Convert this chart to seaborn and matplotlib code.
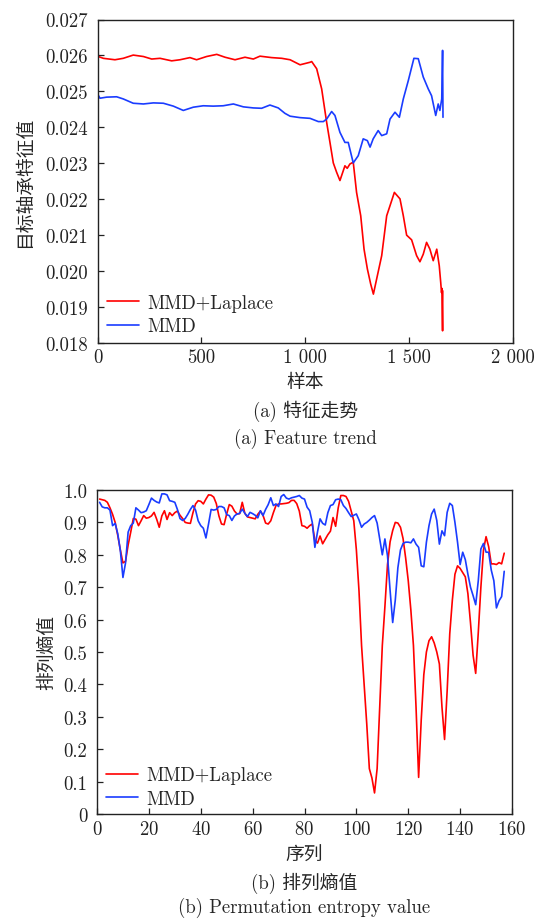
import numpy as np
import pandas as pd
import matplotlib
matplotlib.use("Agg")
import matplotlib.pyplot as plt
import seaborn as sns

# ---- (a) feature trend: sample index vs. bearing feature value ----
trend_red_x = [0, 4, 28, 84, 124, 172, 221, 261, 301, 357, 397, 445, 477, 525, 574,
               614, 662, 710, 750, 782, 838, 887, 927, 975, 1023, 1031, 1055, 1079,
               1103, 1119, 1135, 1151, 1167, 1191, 1202, 1215, 1231, 1247, 1267, 1283,
               1299, 1315, 1328, 1347, 1368, 1392, 1408, 1429, 1456, 1472, 1488, 1512,
               1536, 1552, 1568, 1584, 1600, 1616, 1633, 1645, 1652, 1656, 1658, 1661,
               1662]
trend_red_y = [0.02630, 0.02597, 0.02592, 0.02588, 0.02592, 0.02601, 0.02597, 0.02590,
               0.02592, 0.02585, 0.02588, 0.02594, 0.02588, 0.02597, 0.02603, 0.02595,
               0.02588, 0.02595, 0.02590, 0.02598, 0.02594, 0.02592, 0.02588, 0.02574,
               0.02581, 0.02583, 0.02563, 0.02507, 0.02414, 0.02358, 0.02301, 0.02275,
               0.02252, 0.02293, 0.02286, 0.02298, 0.02303, 0.02219, 0.02154, 0.02061,
               0.02006, 0.01964, 0.01936, 0.01987, 0.02043, 0.02154, 0.02182, 0.02219,
               0.02201, 0.02154, 0.02100, 0.02087, 0.02043, 0.02026, 0.02047, 0.02080,
               0.02061, 0.02029, 0.02061, 0.02015, 0.01969, 0.01940, 0.01952, 0.01834,
               0.01945]

trend_blue_x = [0, 12, 44, 92, 124, 172, 221, 269, 317, 365, 413, 461, 509, 557, 605,
                654, 702, 750, 790, 830, 870, 902, 927, 975, 1023, 1063, 1087, 1103,
                1127, 1143, 1167, 1191, 1207, 1231, 1255, 1279, 1299, 1312, 1327, 1351,
                1368, 1392, 1408, 1432, 1453, 1472, 1496, 1523, 1544, 1568, 1592, 1608,
                1628, 1640, 1648, 1657, 1661, 1663]
trend_blue_y = [0.02493, 0.02481, 0.02484, 0.02485, 0.02479, 0.02467, 0.02465, 0.02468,
                0.02467, 0.02459, 0.02447, 0.02456, 0.02460, 0.02459, 0.02460, 0.02465,
                0.02457, 0.02454, 0.02453, 0.02462, 0.02454, 0.02439, 0.02431, 0.02427,
                0.02425, 0.02416, 0.02416, 0.02423, 0.02444, 0.02433, 0.02386, 0.02358,
                0.02358, 0.02301, 0.02321, 0.02368, 0.02363, 0.02345, 0.02368, 0.02391,
                0.02377, 0.02382, 0.02423, 0.02442, 0.02428, 0.02479, 0.02530, 0.02592,
                0.02591, 0.02540, 0.02507, 0.02488, 0.02433, 0.02465, 0.02447, 0.02479,
                0.02614, 0.02428]

# ---- (b) permutation entropy per sequence index ----
seq_index = list(range(1, 158))
pe_laplace = [
    0.972, 0.970, 0.968, 0.962, 0.945, 0.925, 0.900, 0.860, 0.815, 0.775,
    0.780, 0.830, 0.870, 0.912, 0.910, 0.890, 0.905, 0.921, 0.913, 0.915,
    0.920, 0.931, 0.910, 0.885, 0.920, 0.936, 0.909, 0.930, 0.921, 0.930,
    0.935, 0.922, 0.912, 0.900, 0.898, 0.897, 0.930, 0.957, 0.967, 0.965,
    0.957, 0.972, 0.985, 0.984, 0.978, 0.958, 0.920, 0.895, 0.893, 0.926,
    0.955, 0.950, 0.935, 0.926, 0.927, 0.962, 0.928, 0.917, 0.915, 0.913,
    0.911, 0.925, 0.935, 0.922, 0.898, 0.895, 0.905, 0.930, 0.952, 0.957,
    0.957, 0.958, 0.959, 0.961, 0.968, 0.968, 0.958, 0.935, 0.890, 0.888,
    0.882, 0.890, 0.895, 0.845, 0.836, 0.858, 0.834, 0.848, 0.862, 0.873,
    0.915, 0.888, 0.945, 0.983, 0.983, 0.980, 0.965, 0.935, 0.905, 0.815,
    0.690, 0.520, 0.400, 0.278, 0.140, 0.111, 0.065, 0.140, 0.330, 0.520,
    0.640, 0.770, 0.840, 0.875, 0.900, 0.898, 0.885, 0.850, 0.790, 0.720,
    0.630, 0.520, 0.330, 0.113, 0.290, 0.430, 0.500, 0.535, 0.547, 0.528,
    0.500, 0.463, 0.330, 0.230, 0.380, 0.556, 0.660, 0.740, 0.766, 0.758,
    0.745, 0.732, 0.680, 0.590, 0.490, 0.434, 0.560, 0.700, 0.815, 0.856,
    0.825, 0.772, 0.772, 0.770, 0.776, 0.772, 0.805]
pe_mmd = [
    0.962, 0.948, 0.945, 0.945, 0.938, 0.890, 0.897, 0.865, 0.813, 0.730,
    0.775, 0.870, 0.890, 0.898, 0.945, 0.938, 0.930, 0.932, 0.936, 0.955,
    0.975, 0.968, 0.963, 0.960, 0.988, 0.988, 0.985, 0.967, 0.965, 0.962,
    0.940, 0.912, 0.906, 0.912, 0.925, 0.940, 0.952, 0.938, 0.905, 0.890,
    0.882, 0.852, 0.895, 0.940, 0.938, 0.940, 0.949, 0.949, 0.945, 0.924,
    0.921, 0.906, 0.920, 0.926, 0.928, 0.941, 0.928, 0.918, 0.931, 0.927,
    0.922, 0.914, 0.936, 0.921, 0.940, 0.955, 0.976, 0.952, 0.957, 0.949,
    0.980, 0.986, 0.975, 0.972, 0.976, 0.978, 0.980, 0.983, 0.975, 0.972,
    0.947, 0.936, 0.900, 0.823, 0.870, 0.911, 0.897, 0.892, 0.930, 0.952,
    0.955, 0.970, 0.972, 0.970, 0.952, 0.943, 0.930, 0.918, 0.922, 0.926,
    0.908, 0.885, 0.895, 0.900, 0.907, 0.915, 0.921, 0.898, 0.849, 0.800,
    0.849, 0.797, 0.690, 0.591, 0.660, 0.760, 0.815, 0.835, 0.839, 0.839,
    0.837, 0.849, 0.833, 0.823, 0.766, 0.763, 0.839, 0.890, 0.926, 0.941,
    0.906, 0.833, 0.874, 0.859, 0.931, 0.959, 0.952, 0.900, 0.839, 0.770,
    0.808, 0.785, 0.740, 0.700, 0.674, 0.646, 0.720, 0.818, 0.835, 0.808,
    0.808, 0.753, 0.720, 0.636, 0.658, 0.671, 0.749]

trend_xticks = [0, 500, 1000, 1500, 2000]
trend_xticklabels = ["0", "500", "1 000", "1 500", "2 000"]
trend_yticks = [0.018, 0.019, 0.020, 0.021, 0.022, 0.023, 0.024, 0.025, 0.026, 0.027]
pe_xticks = [0, 20, 40, 60, 80, 100, 120, 140, 160]
pe_yticks = [0.0, 0.1, 0.2, 0.3, 0.4, 0.5, 0.6, 0.7, 0.8, 0.9, 1.0]
pe_yticklabels = ["0", "0.1", "0.2", "0.3", "0.4", "0.5", "0.6", "0.7", "0.8", "0.9", "1.0"]

series_names = ["MMD+Laplace", "MMD"]
RED = "#ff0000"
BLUE = "#1a3cff"

sns.set_style("ticks")
plt.rcParams["font.family"] = ["cmr10", "Noto Sans CJK SC"]
plt.rcParams["mathtext.fontset"] = "cm"
plt.rcParams["axes.unicode_minus"] = False
plt.rcParams["axes.formatter.use_mathtext"] = True

FS = 13.5
W, H = 539, 920
fig = plt.figure(figsize=(W / 100, H / 100), dpi=100)

ax1 = fig.add_axes([97.5 / W, 1 - 344 / H, 415.5 / W, 323.5 / H])
ax2 = fig.add_axes([97 / W, 1 - 815 / H, 415 / W, 324 / H])

df_a = pd.concat([
    pd.DataFrame({"x": trend_red_x, "y": trend_red_y, "s": series_names[0]}),
    pd.DataFrame({"x": trend_blue_x, "y": trend_blue_y, "s": series_names[1]}),
])
sns.lineplot(data=df_a, x="x", y="y", hue="s", sort=False, estimator=None,
             palette=[RED, BLUE], linewidth=1.2, ax=ax1)

df_b = pd.concat([
    pd.DataFrame({"x": seq_index, "y": pe_laplace, "s": series_names[0]}),
    pd.DataFrame({"x": seq_index, "y": pe_mmd, "s": series_names[1]}),
])
sns.lineplot(data=df_b, x="x", y="y", hue="s", sort=False, estimator=None,
             palette=[RED, BLUE], linewidth=1.2, ax=ax2)

for ax in (ax1, ax2):
    for sp in ax.spines.values():
        sp.set_visible(True)
        sp.set_linewidth(1.0)
        sp.set_color("#222222")
    ax.tick_params(direction="in", length=4, width=0.9, labelsize=FS,
                   top=False, right=False, colors="#222222")
    ax.tick_params(axis="y", pad=7)
    ax.tick_params(axis="x", pad=4)
    ax.set_xlabel("")
    ax.set_ylabel("")

legend_kw = dict(loc="lower left", frameon=False, fontsize=FS, handlelength=1.7,
                 handletextpad=0.45, labelspacing=0.3, borderpad=0.2,
                 borderaxespad=0.3)

ax1.set_xlim(0, 2000)
ax1.set_ylim(0.018, 0.027)
ax1.set_xticks(trend_xticks)
ax1.set_xticklabels(trend_xticklabels)
ax1.set_yticks(trend_yticks)
ax1.set_yticklabels([f"{v:.3f}" for v in trend_yticks])
ax1.set_ylabel("目标轴承特征值", fontsize=FS, labelpad=8)
ax1.legend(bbox_to_anchor=(0.0, -0.005), **legend_kw)

ax2.set_xlim(0, 160)
ax2.set_ylim(0, 1.0)
ax2.set_xticks(pe_xticks)
ax2.set_yticks(pe_yticks)
ax2.set_yticklabels(pe_yticklabels)
ax2.set_ylabel("排列熵值", fontsize=FS, labelpad=5)
ax2.legend(bbox_to_anchor=(0.0, -0.01), **legend_kw)

cx1 = (97.5 + 415.5 / 2) / W
fig.text(cx1, 1 - 383 / H, "样本", ha="center", va="center", fontsize=FS)
fig.text(cx1, 1 - 411 / H, "(a) 特征走势", ha="center", va="center", fontsize=FS)
fig.text(cx1, 1 - 439 / H, "(a) Feature trend", ha="center", va="center", fontsize=FS)

cx2 = (97 + 415 / 2) / W
fig.text(cx2, 1 - 856 / H, "序列", ha="center", va="center", fontsize=FS)
fig.text(cx2, 1 - 883 / H, "(b) 排列熵值", ha="center", va="center", fontsize=FS)
fig.text(cx2, 1 - 908 / H, "(b) Permutation entropy value", ha="center", va="center", fontsize=FS)

fig.savefig("out.png", dpi=100, facecolor="white")
